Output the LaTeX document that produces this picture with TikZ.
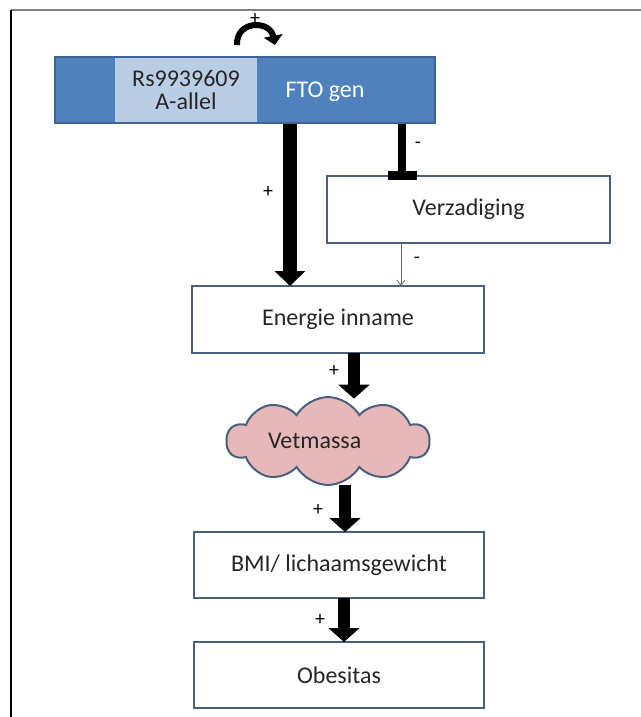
\documentclass[tikz,border=0pt]{standalone}
\usepackage{fontspec}
\setmainfont{Carlito}
\usetikzlibrary{arrows.meta,shapes.symbols}
\definecolor{barblue}{HTML}{4F81BD}
\definecolor{barborder}{HTML}{3A6496}
\definecolor{lightblue}{HTML}{B9CDE5}
\definecolor{boxborder}{HTML}{4A5F7E}
\definecolor{cloudpink}{HTML}{E6B9B8}
\tikzset{
  flowbox/.style={draw=boxborder, line width=1.3pt, fill=white, inner sep=0pt, outer sep=0pt,
    font=\fontsize{18}{21}\selectfont, text=black!85},
  bigarrow/.style={line width=10.5pt, -{Triangle[width=22.5pt,length=11.25pt]}},
  midarrow/.style={line width=9.5pt, -{Triangle[width=23pt,length=10.5pt]}},
  inhib/.style={line width=6.5pt, -{Bar[width=21.75pt]}},
  thinarrow/.style={draw=black!60, line width=0.6pt, -{Straight Barb[length=4pt,width=6pt]}},
  sign/.style={font=\fontsize{15}{17}\selectfont, inner sep=0pt}
}
\begin{document}
\begin{tikzpicture}[x=0.75pt,y=-0.75pt]
\useasboundingbox (0,0) rectangle (641,717);
% frame
\draw[draw=gray, line width=1.5pt] (11,10) -- (641,10);
\draw[draw=black, line width=0.8pt] (11,10) -- (11,717);
% gene bar
\node[draw=barborder, fill=barblue, line width=1.3pt, minimum width=285pt, minimum height=49.5pt, inner sep=0pt] (gene) at (245,90) {};
\node[fill=lightblue, minimum width=106.5pt, minimum height=48pt, inner sep=0pt, align=center,
  font=\fontsize{18}{17.5}\selectfont, text=black!85] (allel) at (186,90) {Rs9939609\\A-allel};
\node[font=\fontsize{18}{21}\selectfont, text=white, inner sep=0pt] (fto) at (325,92) {FTO gen};
% curved arrow
\coordinate (cs) at (237,45);
\coordinate (ce) at (275,45);
\draw[line width=4.5pt, -{Triangle[width=14pt,length=7pt]}] (cs) .. controls (236,20) and (270,20) .. (ce);
\node[sign] (plus0) at (255,19) {+};
% boxes
\node[flowbox, minimum width=212.25pt, minimum height=50.25pt] (verz) at (468.5,209.5) {Verzadiging};
\node[flowbox, minimum width=219pt, minimum height=50.25pt] (energie) at (338,319.5) {Energie inname};
\node[cloud, cloud puffs=10, cloud puff arc=120, cloud ignores aspect, draw=boxborder, line width=1.5pt,
  fill=cloudpink, minimum width=152pt, minimum height=66pt, inner sep=0pt,
  font=\fontsize{18}{21}\selectfont, text=black!85] (vet) at (328,441) {Vetmassa\hspace*{20pt}};
\node[flowbox, minimum width=217.5pt, minimum height=49.5pt] (bmi) at (339,565) {BMI/ lichaamsgewicht};
\node[flowbox, minimum width=217.5pt, minimum height=49.5pt] (obes) at (339,675) {Obesitas};
% connectors
\coordinate (xa) at (290,0);
\coordinate (xb) at (402,0);
\coordinate (xc) at (401,0);
\coordinate (xd) at (354,0);
\coordinate (xe) at (345,0);
\coordinate (xf) at (344,0);
\draw[bigarrow] (gene.south -| xa) -- (energie.north -| xa);
\draw[inhib] (gene.south -| xb) -- ([yshift=-3pt]verz.north -| xb);
\draw[thinarrow] (verz.south -| xc) -- (energie.north -| xc);
\draw[midarrow] (energie.south -| xd) -- ([yshift=-2pt]vet.north -| xd);
\draw[midarrow] ([yshift=1pt]vet.south -| xe) -- (bmi.north -| xe);
\draw[midarrow] (bmi.south -| xf) -- (obes.north -| xf);
% signs
\node[sign] (s1) at (268,192) {+};
\node[sign] (s2) at (418,145) {-};
\node[sign] (s3) at (417,260) {-};
\node[sign] (s4) at (334,371) {+};
\node[sign] (s5) at (318,510) {+};
\node[sign] (s6) at (320,620) {+};
\end{tikzpicture}
\end{document}
